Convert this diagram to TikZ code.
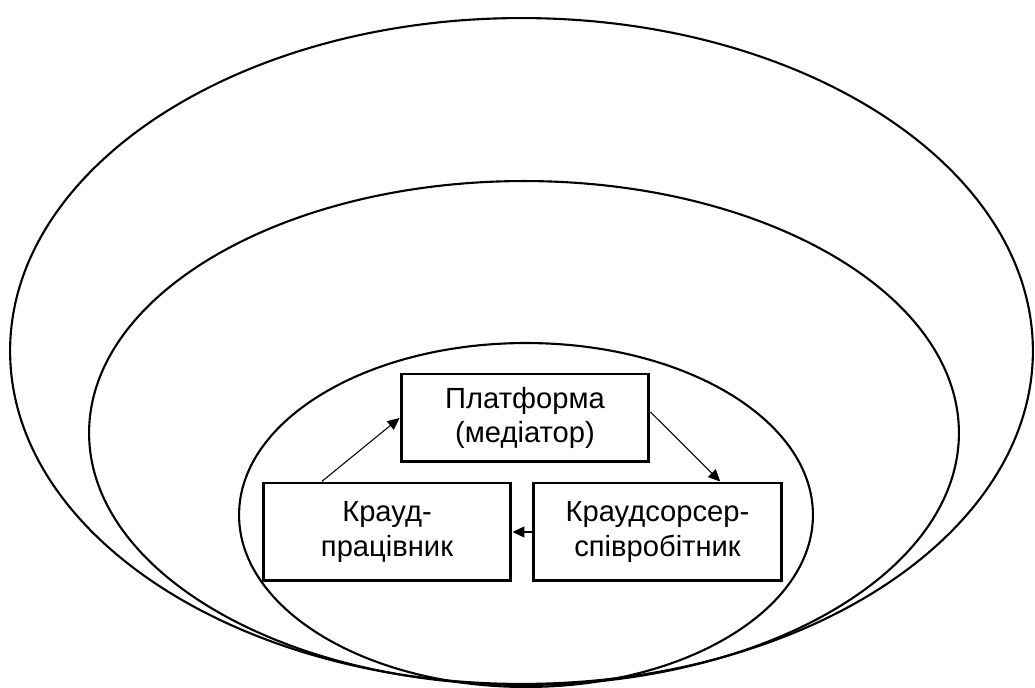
\documentclass[tikz,border=0pt]{standalone}
\usepackage{fontspec}
\setmainfont{Liberation Sans}
\usetikzlibrary{arrows.meta,calc}
\tikzset{
  shell/.style={line width=1.2pt},
  rolebox/.style={draw, line width=1.7pt, inner sep=0pt, align=center,
    minimum width=4.96cm, font=\fontsize{16.6}{19.6}\selectfont},
  flow/.style={line width=0.6pt, -{Triangle[length=0.24cm,width=0.22cm]}}
}
\begin{document}
\begin{tikzpicture}[x=0.02cm,y=-0.02cm]
  \useasboundingbox (0,0) rectangle (1035,688);

  % Drawing outer ellipse
  \draw [shell] (521.5,351) ellipse [x radius=10.23cm, y radius=6.66cm];

  % Drawing middle ellipse
  \draw [shell] (524,433) ellipse [x radius=8.7cm, y radius=5.04cm];

  % Drawing inner ellipse
  \draw [shell] (526,515) ellipse [x radius=5.74cm, y radius=3.44cm];

  % Marking the three roles
  \node [rolebox, minimum height=1.76cm] (platform) at (525,418) {Платформа\\(медіатор)};
  \node [rolebox, minimum height=1.96cm] (worker) at (387,532) {Крауд-\\працівник};
  \node [rolebox, minimum height=1.96cm] (sourcer) at (657.5,532) {Краудсорсер-\\співробітник};

  % Drawing the flows
  \draw [flow] ($(worker.north west)!0.24!(worker.north east)$) -- (platform.west);
  \draw [flow] ([yshift=0.12cm]platform.east) -- ($(sourcer.north west)!0.75!(sourcer.north east)$);
  \draw [flow] (sourcer.west) -- (worker.east);
\end{tikzpicture}
\end{document}
